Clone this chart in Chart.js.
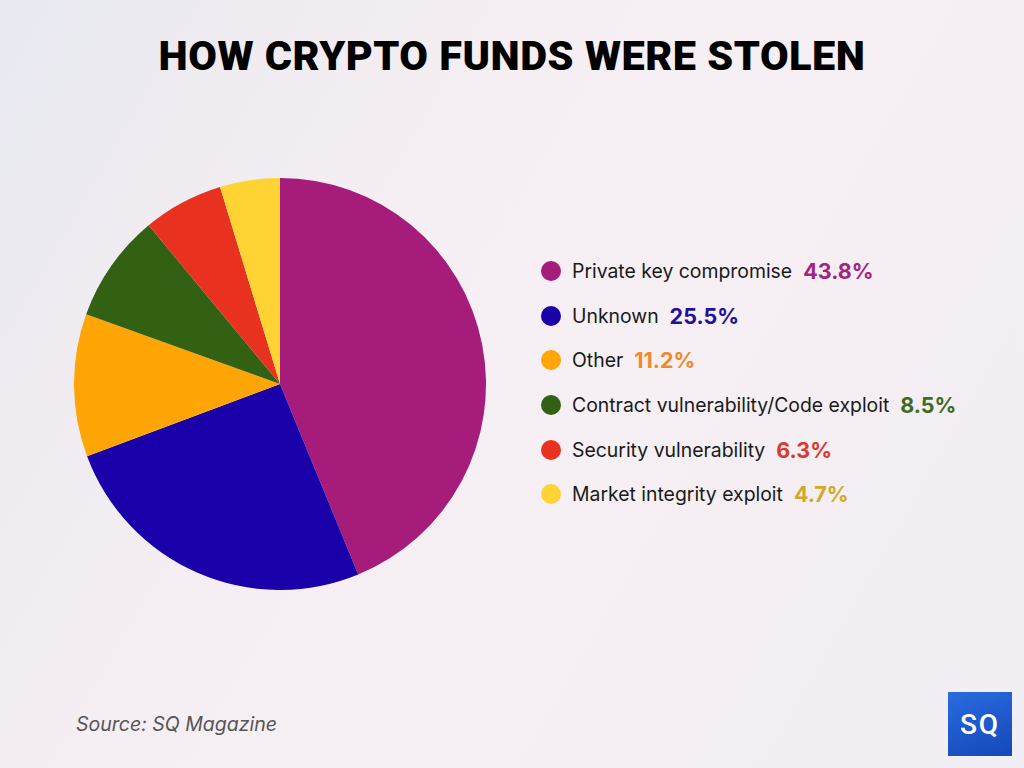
<!DOCTYPE html>
<html>
<head>
<meta charset="utf-8">
<script src="https://cdn.jsdelivr.net/npm/chart.js@4.4.0/dist/chart.umd.min.js"></script>
<style>
  html, body { margin: 0; padding: 0; }
  body {
    width: 1024px; height: 768px; overflow: hidden; position: relative;
    background: linear-gradient(120deg, #e8e9f1 0%, #f5eef2 35%, #f6eff3 60%, #f1eef5 100%);
    font-family: "Inter", "Noto Sans", sans-serif;
  }
  #title {
    position: absolute; left: 0; top: 31px; width: 1024px; text-align: center;
    font-family: "Roboto", sans-serif; font-weight: 900; font-size: 41.5px; color: #000;
    letter-spacing: 0.5px;
  }
  #pieWrap { position: absolute; left: 74px; top: 178px; width: 412px; height: 412px; }
  #legend { position: absolute; left: 541px; top: 249px; }
  .row { display: flex; align-items: center; height: 44.6px; }
  .dot { width: 20px; height: 20px; border-radius: 50%; margin-right: 11px; }
  .lbl { font-size: 19.4px; color: #1a1a1a; margin-right: 11px; }
  .pct { font-size: 21.5px; font-weight: 700; }
  #source {
    position: absolute; left: 76px; top: 712px; font-size: 19.5px; font-style: italic; color: #555;
  }
  #logo {
    position: absolute; left: 948px; top: 692px; width: 64px; height: 64px;
    background: linear-gradient(160deg, #2a6be0 0%, #1548b8 100%);
    color: #fff; font-family: "Roboto", sans-serif; font-weight: 500; font-size: 28px;
    display: flex; align-items: center; justify-content: center; letter-spacing: 2px;
  }
</style>
</head>
<body>
<div id="title">HOW CRYPTO FUNDS WERE STOLEN</div>
<div id="pieWrap"><canvas id="pie" width="412" height="412"></canvas></div>
<div id="legend"></div>
<div id="source">Source: SQ Magazine</div>
<div id="logo">SQ</div>
<script>
const labels = ['Private key compromise', 'Unknown', 'Other', 'Contract vulnerability/Code exploit', 'Security vulnerability', 'Market integrity exploit'];
const values = [43.8, 25.5, 11.2, 8.5, 6.3, 4.7];
const sliceColors = ['#a51c7a', '#1a00a8', '#ffa505', '#336114', '#e8321f', '#ffd333'];
const pctColors = ['#a3237f', '#22119b', '#f08a2b', '#3e6b1c', '#d93a2e', '#d2a82a'];

new Chart(document.getElementById('pie').getContext('2d'), {
  type: 'pie',
  data: {
    labels: labels,
    datasets: [{
      data: values,
      backgroundColor: sliceColors,
      borderWidth: 0
    }]
  },
  options: {
    responsive: false,
    animation: false,
    layout: { padding: 0 },
    plugins: {
      legend: { display: false },
      tooltip: { enabled: false }
    }
  }
});

const legend = document.getElementById('legend');
labels.forEach((name, i) => {
  const row = document.createElement('div');
  row.className = 'row';
  row.innerHTML = `<span class="dot" style="background:${sliceColors[i]}"></span>` +
    `<span class="lbl">${name}</span>` +
    `<span class="pct" style="color:${pctColors[i]}">${values[i].toFixed(1)}%</span>`;
  legend.appendChild(row);
});
</script>
</body>
</html>
